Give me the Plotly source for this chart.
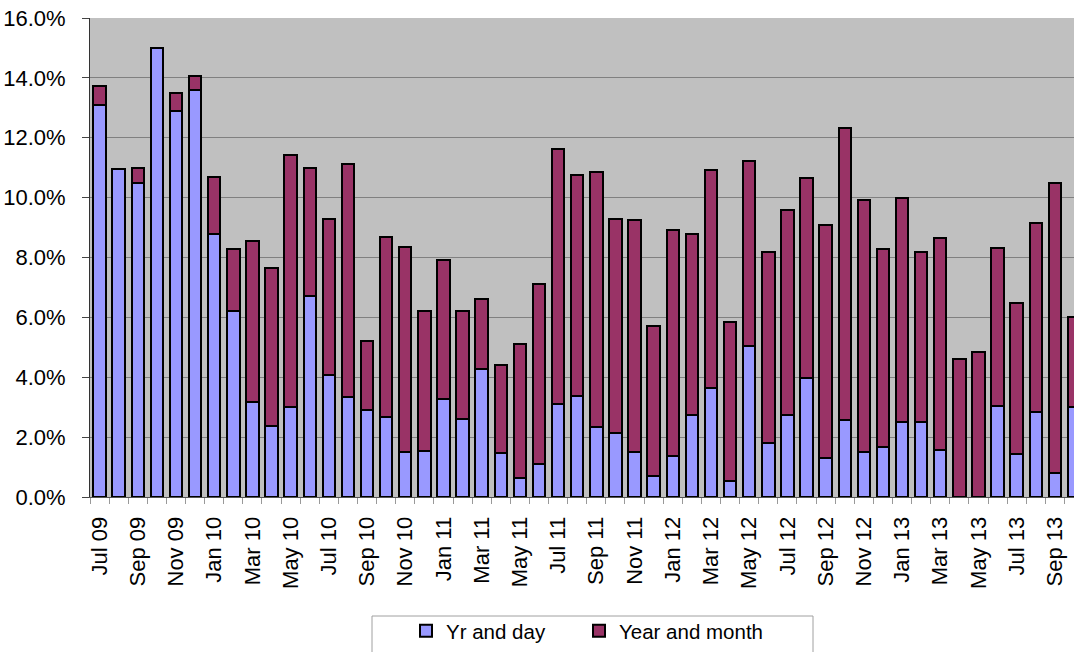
import plotly.graph_objects as go

months = [
    "Jul 09", "Aug 09", "Sep 09", "Oct 09", "Nov 09", "Dec 09",
    "Jan 10", "Feb 10", "Mar 10", "Apr 10", "May 10", "Jun 10",
    "Jul 10", "Aug 10", "Sep 10", "Oct 10", "Nov 10", "Dec 10",
    "Jan 11", "Feb 11", "Mar 11", "Apr 11", "May 11", "Jun 11",
    "Jul 11", "Aug 11", "Sep 11", "Oct 11", "Nov 11", "Dec 11",
    "Jan 12", "Feb 12", "Mar 12", "Apr 12", "May 12", "Jun 12",
    "Jul 12", "Aug 12", "Sep 12", "Oct 12", "Nov 12", "Dec 12",
    "Jan 13", "Feb 13", "Mar 13", "Apr 13", "May 13", "Jun 13",
    "Jul 13", "Aug 13", "Sep 13", "Oct 13",
]

yr_and_day = [
    13.11, 10.97, 10.49, 15.01, 12.88, 13.61,
    8.80, 6.21, 3.19, 2.36, 3.01, 6.71,
    4.06, 3.34, 2.89, 2.67, 1.51, 1.55,
    3.29, 2.59, 4.27, 1.47, 0.63, 1.10,
    3.11, 3.36, 2.33, 2.14, 1.52, 0.71,
    1.37, 2.75, 3.63, 0.54, 5.05, 1.81,
    2.75, 3.99, 1.29, 2.58, 1.51, 1.66,
    2.49, 2.51, 1.57, 0.00, 0.00, 3.03,
    1.45, 2.83, 0.81, 3.01,
]

year_and_month = [
    0.63, 0.00, 0.51, 0.00, 0.60, 0.45,
    1.88, 2.06, 5.36, 5.28, 8.43, 4.27,
    5.24, 7.77, 2.32, 6.00, 6.83, 4.67,
    4.61, 3.63, 2.36, 2.94, 4.48, 6.01,
    8.52, 7.39, 8.52, 7.16, 7.72, 5.01,
    7.55, 6.03, 7.28, 5.29, 6.18, 6.37,
    6.84, 6.66, 7.79, 9.75, 8.41, 6.61,
    7.50, 5.67, 7.08, 4.61, 4.85, 5.30,
    5.03, 6.32, 9.68, 3.01,
]

y_ticks = [0, 2, 4, 6, 8, 10, 12, 14, 16]
y_tick_labels = [f"{v:.1f}%" for v in y_ticks]

FONT = "Arial, 'Liberation Sans', sans-serif"

pos = list(range(len(months)))

W, H = 1074, 652
PLOT_L, PLOT_T, PLOT_B = 90, 18, 497
PLOT_W = W - PLOT_L
PLOT_H = PLOT_B - PLOT_T


def px_x(px):
    return (px - PLOT_L) / PLOT_W


def px_y(py):
    return (PLOT_B - py) / PLOT_H


fig = go.Figure()
fig.add_trace(go.Bar(
    x=pos, y=yr_and_day, name="Yr and day", legend="legend",
    marker=dict(color="#9999FF", line=dict(color="#000000", width=2)),
))
fig.add_trace(go.Bar(
    x=pos, y=year_and_month, name="Year and month", legend="legend2",
    marker=dict(color="#993366", line=dict(color="#000000", width=2)),
))

legend_common = dict(
    orientation="h", xanchor="left", yanchor="bottom",
    font=dict(family=FONT, size=20.5, color="#000000"),
    bgcolor="rgba(0,0,0,0)", borderwidth=0,
)

fig.update_layout(
    width=W, height=H,
    margin=dict(l=PLOT_L, r=0, t=PLOT_T, b=H - PLOT_B),
    barmode="stack", bargap=0.35,
    plot_bgcolor="#C0C0C0", paper_bgcolor="#FFFFFF",
    font=dict(family=FONT, size=22, color="#000000"),
    showlegend=True,
    legend=dict(x=px_x(406), y=px_y(651), **legend_common),
    legend2=dict(x=px_x(579), y=px_y(651), **legend_common),
    xaxis=dict(
        range=[-0.5, 51.0], automargin=False,
        tickmode="array", tickvals=pos[::2], ticktext=months[::2],
        tickangle=-90, ticks="outside", ticklen=10, tickcolor="rgba(0,0,0,0)",
        showgrid=False, zeroline=False, ticklabeloverflow="allow",
        showline=True, linecolor="#555555", linewidth=1,
        minor=dict(tick0=-0.5, dtick=1, ticks="outside", ticklen=6,
                   tickcolor="#999999", showgrid=False),
        tickfont=dict(family=FONT, size=22),
    ),
    yaxis=dict(
        range=[0, 16], automargin=False,
        tickmode="array", tickvals=y_ticks, ticktext=y_tick_labels,
        ticks="outside", ticklen=7, tickcolor="#444444",
        ticklabelstandoff=12, ticklabeloverflow="allow",
        showgrid=True, gridcolor="#808080", gridwidth=1,
        zeroline=False, showline=True, linecolor="#333333", linewidth=1,
        tickfont=dict(family=FONT, size=22),
    ),
    shapes=[dict(
        type="rect", xref="paper", yref="paper",
        x0=px_x(372), x1=px_x(813),
        y0=px_y(700), y1=px_y(616),
        line=dict(color="#A0A0A0", width=1), fillcolor="rgba(0,0,0,0)",
        layer="above",
    )],
)

fig.write_html(
    "out.html",
    config={"displayModeBar": False},
    post_script="document.body.style.margin='0px';document.body.style.overflow='hidden';",
)
